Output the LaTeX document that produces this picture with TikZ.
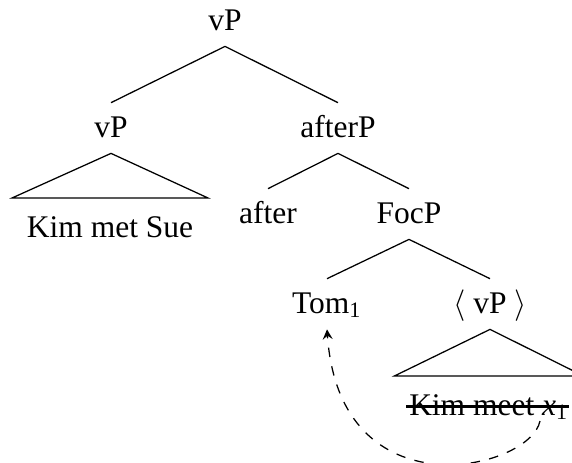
\documentclass[tikz,border=0pt]{standalone}
\usepackage{fontspec}
\setmainfont{Liberation Serif}
\tikzset{
  cat/.style={anchor=base, inner xsep=1pt, inner ysep=3pt, text height=7.7pt, text depth=2pt},
  leaf/.style={anchor=base, inner sep=4.5pt, text height=7.7pt, text depth=2pt},
  strike/.style={line width=0.9pt},
}
\begin{document}
\begin{tikzpicture}[x=0.3175pt,y=-0.3175pt]
                \useasboundingbox (0,0) rectangle (572,462);
                \node[cat] (root) at (225,30) {vP};
                \node[cat] (vPa) at (111,137) {vP};
                \node[cat] (afterP) at (338,137) {afterP};
                \node[leaf] (kimsue) at (110,237) {Kim met Sue};
                \node[cat] (after) at (268,223) {after};
                \node[cat] (focP) at (409,223) {FocP};
                \node[cat] (tom) at (327,313) {Tom\textsubscript{1}};
                \node[cat] (vPb) at (490,313) {$\langle$ vP $\rangle$};
                \node[leaf] (kimmeet) at (489,415) {Kim meet \textit{x}\textsubscript{1}};
                \coordinate (trace) at (540,421);

                \draw (root.south) -- (vPa.north);
                \draw (root.south) -- (afterP.north);
                \draw (vPa.south) -- (kimsue.north west) -- (kimsue.north east) -- cycle;
                \draw (afterP.south) -- (after.north);
                \draw (afterP.south) -- (focP.north);
                \draw (focP.south) -- (tom.north);
                \draw (focP.south) -- (vPb.north);
                \draw (vPb.south) -- (kimmeet.north west) -- (kimmeet.north east) -- cycle;
                \draw[strike] ([xshift=3.8pt,yshift=2.8pt]kimmeet.base west) -- ([xshift=-4.5pt,yshift=2.8pt]kimmeet.base east);

                \draw[dashed,->,>=stealth] (trace) .. controls (530,470) and (340,515) .. (tom.south);
            \end{tikzpicture}
\end{document}
